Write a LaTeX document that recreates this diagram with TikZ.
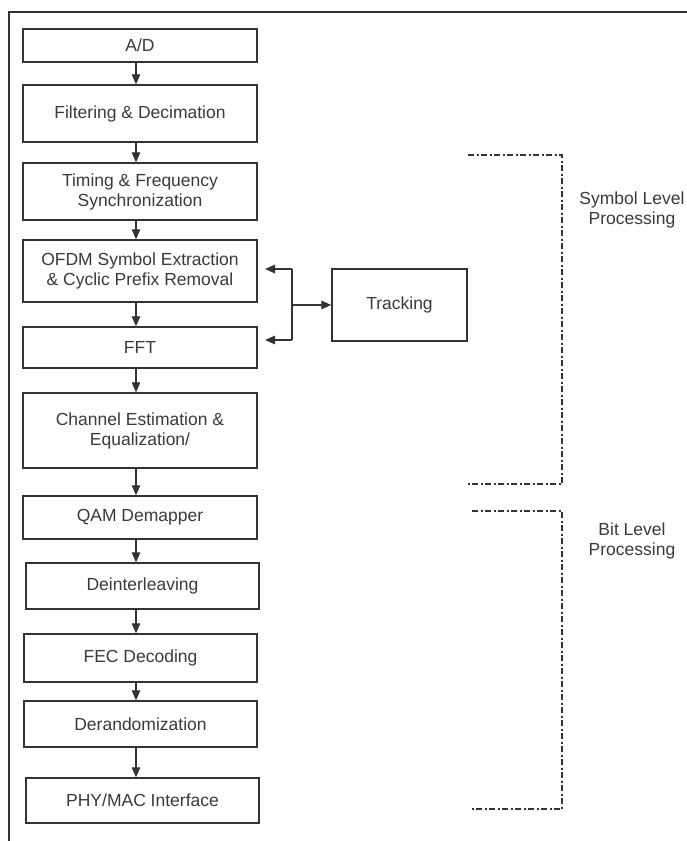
\documentclass[tikz,border=0pt]{standalone}
\usepackage{fontspec}
\setmainfont{Liberation Sans}
\usetikzlibrary{arrows.meta}
\definecolor{ln}{HTML}{333333}
\definecolor{tx}{HTML}{3A3A3A}
\tikzset{
  blk/.style={draw=ln, line width=1.4pt, rectangle, inner sep=0pt, align=center,
    text=tx, font=\fontsize{17.5}{20}\selectfont},
  arr/.style={draw=ln, line width=1.2pt, -{Triangle[length=10pt,width=8.5pt]}},
  brk/.style={draw=ln, line width=1.3pt, dash pattern=on 6pt off 2.5pt on 2pt off 2.5pt},
  lbl/.style={align=center, text=tx, font=\fontsize{17.5}{20}\selectfont},
}
\begin{document}
\begin{tikzpicture}[x=1pt,y=-1pt]
\useasboundingbox (0,0) rectangle (687,841);
% frame
\draw[ln, line width=2pt] (9,841) -- (9,12) -- (687,12);
% blocks
\node[blk, minimum width=234pt, minimum height=33pt] (ad) at (140,45.5) {A/D};
\node[blk, minimum width=234pt, minimum height=57pt] (filt) at (140,113.5) {Filtering \& Decimation};
\node[blk, minimum width=234pt, minimum height=57pt] (sync) at (140,191.5) {Timing \& Frequency\\Synchronization};
\node[blk, minimum width=234pt, minimum height=62pt] (ofdm) at (140,271) {OFDM Symbol Extraction\\\& Cyclic Prefix Removal};
\node[blk, minimum width=234pt, minimum height=41pt] (fft) at (140,347.5) {FFT};
\node[blk, minimum width=234pt, minimum height=75pt] (chan) at (140,430.5) {Channel Estimation \&\\Equalization/};
\node[blk, minimum width=234pt, minimum height=43pt] (qam) at (140,517.5) {QAM Demapper};
\node[blk, minimum width=233pt, minimum height=46pt] (deint) at (142.5,586) {Deinterleaving};
\node[blk, minimum width=233pt, minimum height=48pt] (fec) at (140.5,658) {FEC Decoding};
\node[blk, minimum width=233pt, minimum height=46pt] (derand) at (140.5,724) {Derandomization};
\node[blk, minimum width=233pt, minimum height=45pt] (phy) at (142.5,800.5) {PHY/MAC Interface};
\node[blk, minimum width=135pt, minimum height=72pt] (trk) at (399.5,305) {Tracking};
% chain arrows
\coordinate (ax) at (136,0);
\foreach \a/\b in {ad/filt, filt/sync, sync/ofdm, ofdm/fft, fft/chan, chan/qam, qam/deint, deint/fec, fec/derand, derand/phy}
  \draw[arr] (\a.south -| ax) -- (\b.north -| ax);
% tracking loop
\coordinate (fb) at (292,0);
\coordinate (t1) at (265,269);
\coordinate (t2) at (265,340);
\draw[ln, line width=1.2pt] (fb |- t1) -- (fb |- t2);
\draw[arr] (fb |- t1) -- (t1);
\draw[arr] (fb |- t2) -- (t2);
\draw[arr] (fb |- trk.west) -- (trk.west);
% brackets
\coordinate (s1) at (468,155);
\coordinate (s2) at (468,484);
\coordinate (b1) at (472,511);
\coordinate (b2) at (472,809);
\draw[brk] (s1) -- (562,155) -- (562,484) -- (s2);
\draw[brk] (b1) -- (562,511) -- (562,809) -- (b2);
\node[lbl] (slp) at (632,210) {Symbol Level\\Processing};
\node[lbl] (blp) at (632,541) {Bit Level\\Processing};
\end{tikzpicture}
\end{document}
